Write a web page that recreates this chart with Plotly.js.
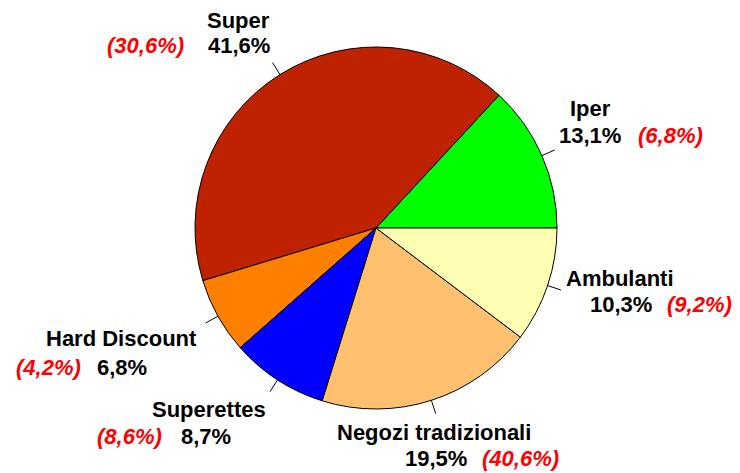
<!DOCTYPE html>
<html>
<head>
<meta charset="utf-8">
<script src="https://cdn.plot.ly/plotly-3.0.1.min.js"></script>
<style>
  html, body { margin: 0; padding: 0; background: #fff; }
  #chart { width: 740px; height: 473px; }
</style>
</head>
<body>
<div id="chart"></div>
<script>
// channel shares (current year) and previous figures in red
const channels = ['Iper', 'Super', 'Hard Discount', 'Superettes', 'Negozi tradizionali', 'Ambulanti'];
const shares = [13.1, 41.6, 6.8, 8.7, 19.5, 10.3];
const prevShares = [6.8, 30.6, 4.2, 8.6, 40.6, 9.2];
const sliceColors = ['#00ff00', '#bf2200', '#ff8000', '#0000ff', '#ffc170', '#ffffb3'];

// label placement in pixels: [name x, name y, value x, value y, red x]
const labelPos = [
  [590, 108, 590, 136, 670],
  [238, 20, 239, 46, 145],
  [121, 338, 122, 367, 48],
  [209, 409, 206, 436, 129],
  [434, 432, 436, 458, 520],
  [620, 278, 621, 304, 699]
];

const W = 740, H = 473;
const cx = 376, cy = 228, R = 181;
const px = x => x / W;
const py = y => 1 - y / H;
const fmt = v => v.toFixed(1).replace('.', ',') + '%';

const font = { family: 'Liberation Sans, Arial, sans-serif', size: 22, color: '#000' };

const annotations = [];
const shapes = [];
const total = shares.reduce((a, b) => a + b, 0);
let cum = 0;
channels.forEach((name, k) => {
  const p = labelPos[k];
  annotations.push({ text: '<b>' + name + '</b>', x: px(p[0]), y: py(p[1]) });
  annotations.push({ text: '<b>' + fmt(shares[k]) + '</b>', x: px(p[2]), y: py(p[3]) });
  annotations.push({
    text: '<b><i>(' + fmt(prevShares[k]) + ')</i></b>', x: px(p[4]), y: py(p[3]),
    font: Object.assign({}, font, { color: '#ff0000' })
  });
  // short leader tick at slice middle
  const mid = (cum + shares[k] / 2) / total * 2 * Math.PI;
  cum += shares[k];
  shapes.push({
    type: 'line', xref: 'paper', yref: 'paper',
    x0: px(cx + R * Math.cos(mid)), y0: py(cy - R * Math.sin(mid)),
    x1: px(cx + (R + 14) * Math.cos(mid)), y1: py(cy - (R + 14) * Math.sin(mid)),
    line: { color: '#000', width: 1 }
  });
});
annotations.forEach(a => {
  a.xref = 'paper'; a.yref = 'paper';
  a.xanchor = 'center'; a.yanchor = 'middle';
  a.showarrow = false;
  if (!a.font) a.font = font;
});

// first slice starts at 3 o'clock and runs counterclockwise
const trace = {
  type: 'pie',
  labels: channels,
  values: shares,
  sort: false,
  direction: 'counterclockwise',
  rotation: 90 - shares[0] / total * 360,
  textinfo: 'none',
  hoverinfo: 'none',
  marker: { colors: sliceColors, line: { color: '#000', width: 1 } },
  domain: { x: [px(cx - R), px(cx + R)], y: [py(cy + R), py(cy - R)] },
  showlegend: false
};

Plotly.newPlot('chart', [trace], {
  width: W, height: H,
  margin: { l: 0, r: 0, t: 0, b: 0 },
  paper_bgcolor: '#fff',
  showlegend: false,
  annotations: annotations,
  shapes: shapes
}, { displayModeBar: false, staticPlot: true });
</script>
</body>
</html>
